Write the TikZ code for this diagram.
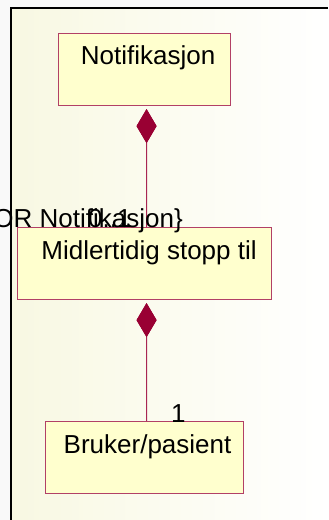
\documentclass[tikz,border=0pt]{standalone}
\usepackage{fontspec}
\setmainfont{Liberation Sans}
\usepackage{xcolor}
\usetikzlibrary{arrows.meta, positioning}

\definecolor{umlred}{RGB}{153,0,51}
\definecolor{umlfill}{RGB}{255,255,206}
\definecolor{umlback}{RGB}{248,248,226}

\begin{document}
\begin{tikzpicture}[x=1bp, y=-1bp,
        classbox/.style={rectangle, draw=umlred!75, fill=umlfill, line width=1.1bp, inner sep=0pt, minimum height=72bp, anchor=north west},
        classname/.style={anchor=base, inner sep=0pt, font=\fontsize{26bp}{30bp}\selectfont},
        lbl/.style={inner sep=0pt, font=\fontsize{26bp}{30bp}\selectfont},
        comp/.style={draw=umlred!85, line width=0.9bp, {Diamond[length=34bp, width=20bp, color=umlred, fill=umlred]}-}]
        \useasboundingbox (0,0) rectangle (328,520);
        % background and frame
        \fill[gray!5] (0,0) rectangle (328,520);
        \shade[left color=umlback, right color=white] (11,8) rectangle (328,520);
        \draw[line width=1.3bp] (11,520) -- (11,8) -- (328,8);
        % classes
        \node [classbox, minimum width=172bp] (notif) at (58, 33) {};
        \node [classbox, minimum width=254bp] (stopp) at (17, 227) {};
        \node [classbox, minimum width=198bp] (bruker) at (45, 421) {};
        \node [classname] (notiftxt) at ([xshift=3.5bp, yshift=-32bp]notif.north) {Notifikasjon};
        \node [classname] (stopptxt) at ([xshift=4.5bp, yshift=-32bp]stopp.north) {Midlertidig stopp til};
        \node [classname] (brukertxt) at ([xshift=3bp, yshift=-32bp]bruker.north) {Bruker/pasient};
        % compositions
        \path [comp] ([xshift=2bp, yshift=-3bp]notif.south) edge ([xshift=2bp]stopp.north);
        \path [comp] ([xshift=2bp, yshift=-3bp]stopp.south) edge ([xshift=2bp]bruker.north);
        % role and multiplicities
        \node [lbl, anchor=base east] (role) at (183, 227) {\{OR Notifikasjon\}};
        \node [lbl, anchor=base west] (multa) at (88, 227) {0..1};
        \node [lbl, anchor=base west] (multb) at (171, 422) {1};
    \end{tikzpicture}
\end{document}
